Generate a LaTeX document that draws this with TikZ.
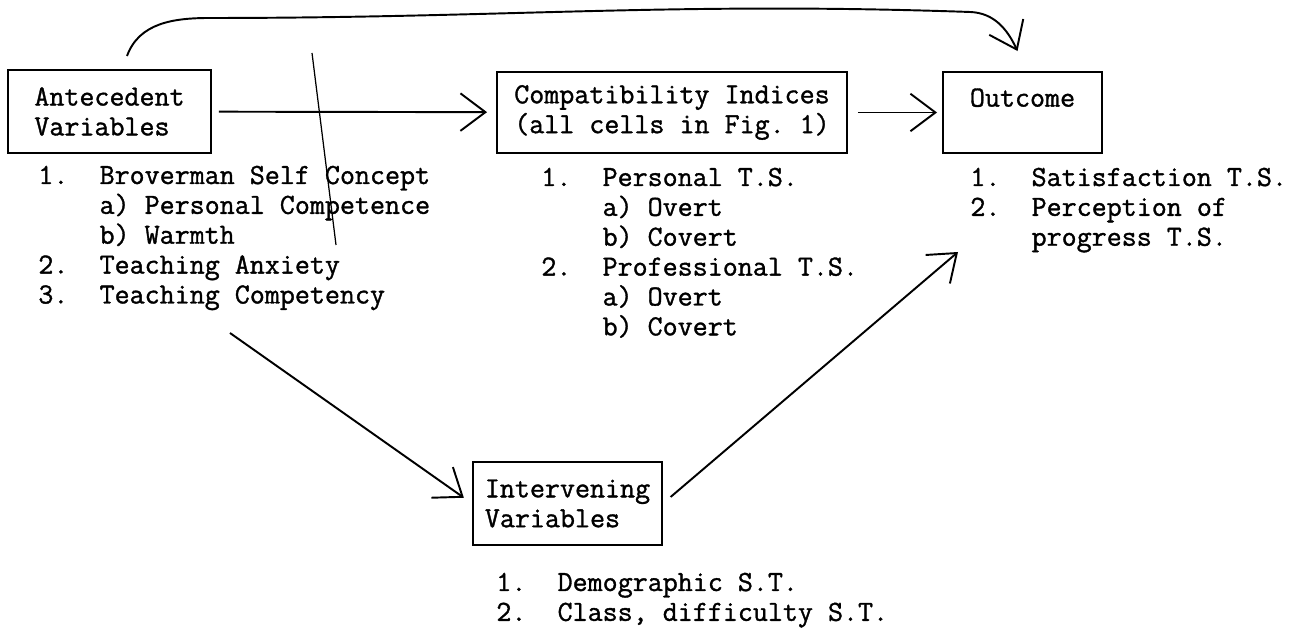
\documentclass[tikz,border=0pt]{standalone}
\usepackage{fontspec}
\setmonofont{Latin Modern Mono}[FakeBold=1.2]
\usepackage{tikz}
\usetikzlibrary{arrows.meta}

% typewriter size, 4-character hanging number column
\newcommand{\typed}{\ttfamily\fontsize{16.6}{17}\selectfont\frenchspacing}
\newcommand{\numlist}[1]{\begin{tabular}[t]{@{}p{2.1em}@{}l@{}}#1\end{tabular}}

\begin{document}
\begin{tikzpicture}[
  font=\typed,
  varbox/.style={draw, line width=1.1pt, align=left, inner sep=0pt},
  list/.style={anchor=base west, inner sep=0pt},
  arr/.style={->, line width=1.1pt, line join=round,
    >={Straight Barb[length=5mm,width=7.5mm]}}
]
  \useasboundingbox (0,0) rectangle (26.1,12.68);

  % boxes
  \node[varbox, minimum width=4.06cm, minimum height=1.66cm] (ante) at (2.19,10.45) {Antecedent\\Variables};
  \node[varbox, minimum width=7cm, minimum height=1.62cm] (compat) at (13.44,10.43) {Compatibility Indices\\(all cells in Fig. 1)};
  \node[varbox, minimum width=3.18cm, minimum height=1.62cm] (outcome) at (20.45,10.43) {Outcome\\\mbox{}};
  \node[varbox, minimum width=3.78cm, minimum height=1.66cm] (inter) at (11.35,2.61) {Intervening\\Variables};

  % lists under the boxes
  \node[list] (antelist) at (0.76,9.0) {\numlist{
    1. & Broverman Self Concept\\
       & a) Personal Competence\\
       & b) Warmth\\
    2. & Teaching Anxiety\\
    3. & Teaching Competency}};
  \node[list] (compatlist) at (10.82,8.96) {\numlist{
    1. & Personal T.S.\\
       & a) Overt\\
       & b) Covert\\
    2. & Professional T.S.\\
       & a) Overt\\
       & b) Covert}};
  \node[list] (outlist) at (19.4,8.96) {\numlist{
    1. & Satisfaction T.S.\\
    2. & Perception of\\
       & progress T.S.}};
  \node[list] (interlist) at (9.92,0.86) {\numlist{
    1. & Demographic S.T.\\
    2. & Class, difficulty S.T.}};

  % arrows
  \draw[arr, shorten <=1.4mm, shorten >=1.8mm] (ante) -- (compat);
  \draw[arr, shorten <=2mm, shorten >=1mm] (compat) -- (outcome);
  \coordinate (lowstart) at (4.6,6.02);
  \draw[arr, shorten >=2mm] (lowstart) -- (inter.west);
  \coordinate (outin) at (19.16,7.64);
  \draw[arr, shorten <=2mm] (inter.east) -- (outin);
  \draw[arr] ([xshift=3.5mm,yshift=2.6mm]ante.north) to[out=70,in=180] (4.2,12.32)
    to[out=0,in=178] (19.4,12.44) to[out=-2,in=115] ([xshift=-1mm,yshift=4mm]outcome.north);

  % pencil stroke across the first arrow
  \draw[line width=0.7pt] (6.24,11.62) -- (6.72,7.78);
\end{tikzpicture}
\end{document}
